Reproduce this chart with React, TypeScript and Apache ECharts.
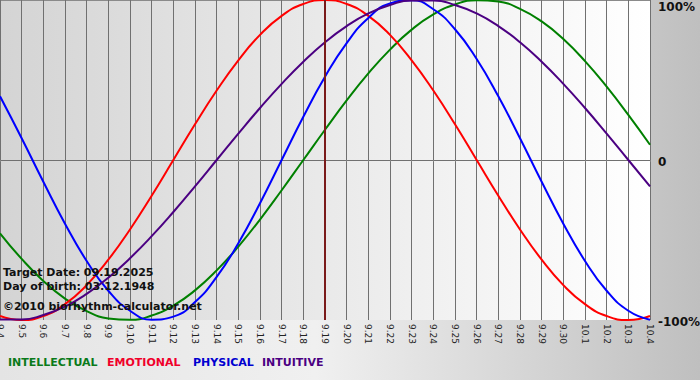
import React, { useEffect, useRef } from "react";
import * as echarts from "echarts";

const days = [
  "9.4", "9.5", "9.6", "9.7", "9.8", "9.9", "9.10", "9.11", "9.12", "9.13",
  "9.14", "9.15", "9.16", "9.17", "9.18", "9.19", "9.20", "9.21", "9.22", "9.23",
  "9.24", "9.25", "9.26", "9.27", "9.28", "9.29", "9.30", "10.1", "10.2", "10.3", "10.4",
];

const intellectual = [
  -45.8, -61.8, -75.6, -86.6, -94.5, -99.0, -99.9, -97.2, -91.0, -81.5,
  -69.0, -54.1, -37.2, -18.9, 0, 18.9, 37.2, 54.1, 69.0, 81.5,
  91.0, 97.2, 99.9, 99.0, 94.5, 86.6, 75.6, 61.8, 45.8, 28.2, 9.5,
];

const emotional = [
  -97.5, -100, -97.5, -90.1, -78.2, -62.3, -43.4, -22.3, 0, 22.3,
  43.4, 62.3, 78.2, 90.1, 97.5, 100, 97.5, 90.1, 78.2, 62.3,
  43.4, 22.3, 0, -22.3, -43.4, -62.3, -78.2, -90.1, -97.5, -100, -97.5,
];

const physical = [
  39.8, 13.6, -13.6, -39.8, -63.1, -81.7, -94.2, -99.8, -97.9, -88.8,
  -73.1, -52.0, -27.0, 0, 27.0, 52.0, 73.1, 88.8, 97.9, 99.8,
  94.2, 81.7, 63.1, 39.8, 13.6, -13.6, -39.8, -63.1, -81.7, -94.2, -99.8,
];

const intuitive = [
  -99.7, -99.7, -96.9, -91.6, -83.7, -73.6, -61.4, -47.6, -32.5, -16.5,
  0, 16.5, 32.5, 47.6, 61.4, 73.6, 83.7, 91.6, 96.9, 99.7,
  99.7, 96.9, 91.6, 83.7, 73.6, 61.4, 47.6, 32.5, 16.5, 0, -16.5,
];

const targetDay = "9.19";
const infoLines = [
  "Target Date: 09.19.2025",
  "Day of birth: 03.12.1948",
  "\u00a92010 biorhythm-calculator.net",
];
const legendNames = ["INTELLECTUAL", "EMOTIONAL", "PHYSICAL", "INTUITIVE"];
const colors = ["#008000", "#ff0000", "#0000ff", "#4b0082"];
const legendColors = ["#0a7a1a", "#f0002a", "#0000d0", "#4b0082"];

export default function App() {
  const ref = useRef<HTMLDivElement>(null);

  useEffect(() => {
    document.body.style.margin = "0";
    if (!ref.current) return;
    const chart = echarts.init(ref.current, undefined, { renderer: "svg" });
    const FONT = '"DejaVu Sans", Verdana, sans-serif';
    const seriesData = [intellectual, emotional, physical, intuitive];

    const legendX = [8, 107, 193, 262];
    const infoY = [272, 286, 306];

    chart.setOption({
      animation: false,
      backgroundColor: new echarts.graphic.LinearGradient(0, 0, 1, 0, [
        { offset: 0, color: "#e4e4e4" },
        { offset: 0.45, color: "#f0f0f0" },
        { offset: 1, color: "#bfbfbf" },
      ]),
      grid: {
        left: 0,
        right: 50,
        top: 0,
        bottom: 60,
        outerBoundsMode: "none",
        containLabel: false,
        show: true,
        borderWidth: 0,
        backgroundColor: new echarts.graphic.LinearGradient(0, 0, 1, 0, [
          { offset: 0, color: "#d4d4d4" },
          { offset: 1, color: "#ffffff" },
        ]),
      },
      xAxis: {
        type: "category",
        data: days,
        boundaryGap: false,
        axisLine: { show: false },
        axisTick: { show: true, length: 2, lineStyle: { color: "#808080" } },
        splitLine: { show: true, interval: 0, lineStyle: { color: "#707070", width: 1 } },
        axisLabel: {
          interval: 0,
          rotate: -90,
          margin: 4,
          fontSize: 9,
          fontFamily: FONT,
          color: "#222",
        },
      },
      yAxis: {
        type: "value",
        position: "right",
        min: -100,
        max: 100,
        interval: 100,
        axisLine: { show: false },
        axisTick: { show: false },
        splitLine: {
          show: true,
          lineStyle: { color: ["rgba(0,0,0,0)", "#707070", "#8a8a8a"], width: 1 },
        },
        axisLabel: {
          margin: 8,
          formatter: (v: number) =>
            v === 100 ? "{t|100%}" : v === 0 ? "{z|0}" : "{b|-100%}",
          rich: {
            t: { fontSize: 12, fontWeight: "bold", fontFamily: FONT, color: "#111", padding: [14, 0, 0, 0] },
            z: { fontSize: 12, fontWeight: "bold", fontFamily: FONT, color: "#111", padding: [4, 0, 0, 0] },
            b: { fontSize: 12, fontWeight: "bold", fontFamily: FONT, color: "#111", padding: [3, 0, 0, 0] },
          },
        },
      },
      series: seriesData.map((d, i) => ({
        name: legendNames[i],
        type: "line",
        data: d,
        smooth: true,
        symbol: "none",
        lineStyle: { color: colors[i], width: 2 },
        z: 3,
        ...(i === 0
          ? {
              markLine: {
                silent: true,
                symbol: "none",
                label: { show: false },
                lineStyle: { color: "#7a1a1a", width: 2, type: "solid" },
                data: [{ xAxis: targetDay }],
              },
            }
          : {}),
      })),
      graphic: [
        ...infoLines.map((t, i) => ({
          type: "text",
          x: 3,
          y: infoY[i],
          z: 100,
          style: {
            text: t,
            fill: "#111",
            font: `bold 11px ${FONT}`,
            verticalAlign: "middle",
          },
        })),
        ...legendNames.map((t, i) => ({
          type: "text",
          x: legendX[i],
          y: 362,
          z: 100,
          style: {
            text: t,
            fill: legendColors[i],
            font: `bold 11px ${FONT}`,
            verticalAlign: "middle",
          },
        })),
      ],
    });

    return () => chart.dispose();
  }, []);

  return <div ref={ref} style={{ width: 700, height: 380 }} />;
}
